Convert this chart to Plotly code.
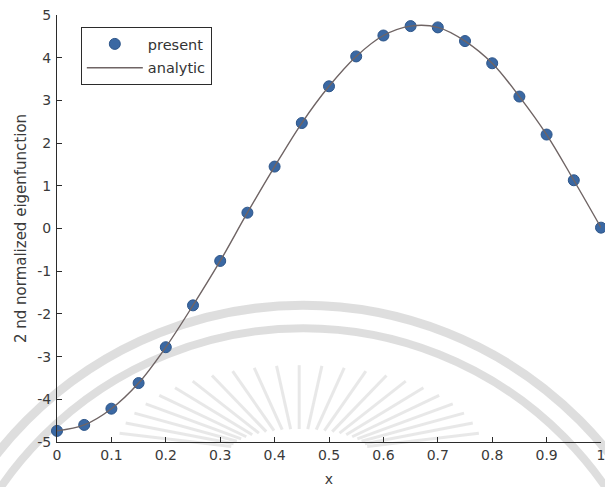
import numpy as np
import plotly.graph_objects as go

# ---- data -------------------------------------------------------------
x_vals = [0.00, 0.05, 0.10, 0.15, 0.20, 0.25, 0.30, 0.35, 0.40, 0.45, 0.50,
          0.55, 0.60, 0.65, 0.70, 0.75, 0.80, 0.85, 0.90, 0.95, 1.00]
present = [-4.74, -4.60, -4.22, -3.62, -2.78, -1.80, -0.76, 0.37, 1.45, 2.47,
           3.33, 4.03, 4.52, 4.74, 4.71, 4.39, 3.87, 3.09, 2.20, 1.13, 0.02]
analytic = [-4.74, -4.60, -4.22, -3.62, -2.78, -1.80, -0.76, 0.37, 1.45, 2.47,
            3.33, 4.03, 4.52, 4.74, 4.71, 4.39, 3.87, 3.09, 2.20, 1.13, 0.02]

x_ticks = [0, 0.1, 0.2, 0.3, 0.4, 0.5, 0.6, 0.7, 0.8, 0.9, 1]
x_tick_text = ["0", "0.1", "0.2", "0.3", "0.4", "0.5", "0.6", "0.7", "0.8", "0.9", "1"]
y_ticks = [-5, -4, -3, -2, -1, 0, 1, 2, 3, 4, 5]
y_tick_text = ["-5", "-4", "-3", "-2", "-1", "0", "1", "2", "3", "4", "5"]

# ---- layout geometry (pixels) -----------------------------------------
W, H = 605, 487
ML, MR, MT, MB = 57, 0, 15, 44
PW, PH = W - ML - MR, H - MT - MB
FONT = "DejaVu Sans"


def px_to_paper(px, py):
    return (px - ML) / PW, (H - MB - py) / PH


fig = go.Figure()

fig.add_trace(go.Scatter(
    x=x_vals, y=present, mode="markers", name="present",
    legendgroup="a",
    marker=dict(size=11, color="#3a68a3", line=dict(color="#2d5589", width=1)),
    cliponaxis=False,
))
fig.add_trace(go.Scatter(
    x=x_vals, y=analytic, mode="lines", name="analytic",
    legendgroup="b",
    line=dict(color="#6f6464", width=1.4, shape="spline", smoothing=1.0),
    cliponaxis=False,
))

# ---- faint background emblem ------------------------------------------
shapes = []
wm_color = "rgba(200,200,200,0.6)"
cx, cy = 305, 700
for r, w in [(394, 9), (371, 8)]:
    x0, y0 = px_to_paper(cx - r, cy + r)
    x1, y1 = px_to_paper(cx + r, cy - r)
    shapes.append(dict(type="circle", xref="paper", yref="paper",
                       x0=x0, y0=y0, x1=x1, y1=y1,
                       line=dict(color=wm_color, width=w), layer="below"))

rx, ry = 301, 452
for ang in np.linspace(12, 168, 23):
    a = np.deg2rad(ang)
    ox, oy = rx + 185 * np.cos(a), ry - 86 * np.sin(a)
    ix, iy = rx + 70 * np.cos(a), ry - 22 * np.sin(a)
    x0, y0 = px_to_paper(ix, iy)
    x1, y1 = px_to_paper(ox, oy)
    shapes.append(dict(type="line", xref="paper", yref="paper",
                       x0=x0, y0=y0, x1=x1, y1=y1,
                       line=dict(color="rgba(205,205,205,0.45)", width=3),
                       layer="below"))

axis_common = dict(
    showline=True, linecolor="#2b2b2b", linewidth=1.2,
    ticks="inside", ticklen=5, tickwidth=1, tickcolor="#2b2b2b",
    showgrid=False, zeroline=False, mirror=False,
    ticklabeloverflow="allow",
    tickfont=dict(family=FONT, size=14, color="#3a3a3a"),
)

lx, ly = px_to_paper(81, 27)
fig.update_layout(
    width=W, height=H,
    margin=dict(l=ML, r=MR, t=MT, b=MB, pad=0),
    paper_bgcolor="white", plot_bgcolor="rgba(0,0,0,0)",
    shapes=shapes,
    xaxis=dict(range=[0, 1], tickvals=x_ticks, ticktext=x_tick_text,
               title=dict(text="x", standoff=14,
                          font=dict(family=FONT, size=14, color="#3a3a3a")),
               ticklabelstandoff=0,
               **axis_common),
    yaxis=dict(range=[-5, 5], tickvals=y_ticks, ticktext=y_tick_text,
               title=dict(text="2 nd normalized eigenfunction", standoff=6,
                          font=dict(family=FONT, size=15, color="#3a3a3a")),
               ticklabelstandoff=2,
               **axis_common),
    legend=dict(x=lx, y=ly, xanchor="left", yanchor="top",
                bgcolor="white", bordercolor="#2b2b2b", borderwidth=1,
                font=dict(family=FONT, size=14.5, color="#333333"),
                itemwidth=56, traceorder="grouped", tracegroupgap=2),
    showlegend=True,
)

fig.write_html("out.html")
